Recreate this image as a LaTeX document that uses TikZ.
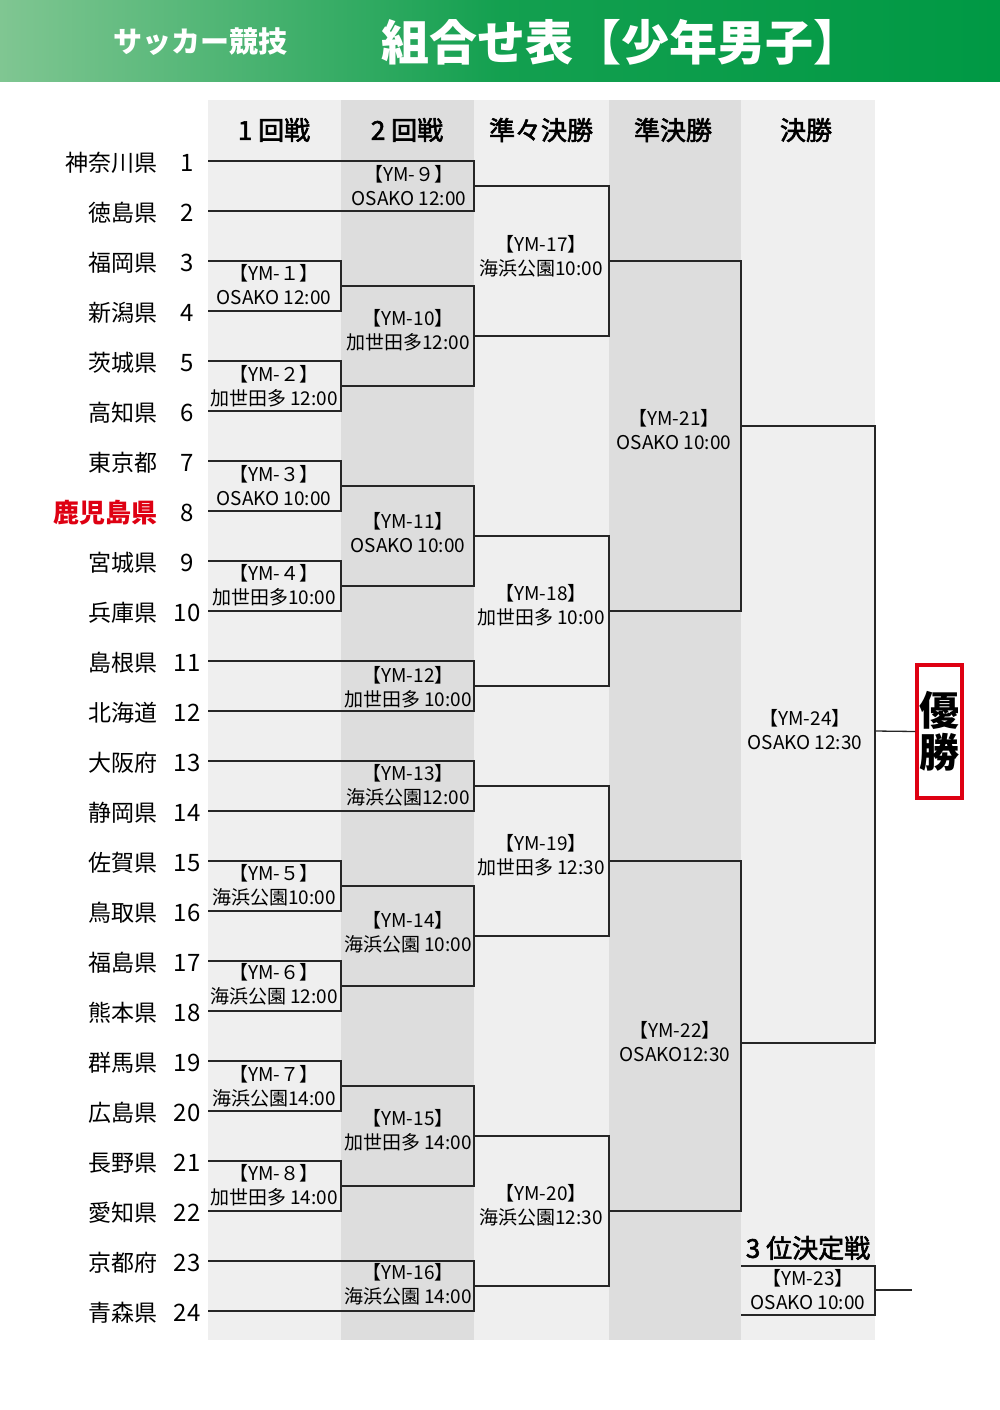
\documentclass[tikz,border=0pt]{standalone}
\usepackage{fontspec}
\setmainfont{Noto Sans CJK JP}
\newfontfamily\medfont{Noto Sans CJK JP}[FakeBold=2.2]

\definecolor{bandgreen}{RGB}{0,153,68}
\definecolor{bandlight}{RGB}{128,198,146}
\definecolor{collight}{RGB}{239,239,239}
\definecolor{coldark}{RGB}{221,221,221}
\definecolor{homered}{RGB}{222,0,18}

\tikzset{
  bracket/.style={line width=1.3pt,draw=black!85},
  match/.style={font=\fontsize{19}{24}\selectfont,align=center,inner sep=0pt},
  team/.style={font=\fontsize{23}{26}\selectfont,anchor=east,inner sep=0pt},
  home/.style={team,font=\fontsize{26}{28}\selectfont\bfseries,text=homered},
  seed/.style={font=\fontsize{24}{26}\selectfont,inner sep=0pt},
  round/.style={font=\fontsize{26}{28}\selectfont\medfont,inner sep=0pt},
  winbox/.style={draw=homered,line width=3.5pt,minimum width=45pt,minimum height=133pt,
    align=center,inner sep=0pt,font=\fontsize{40}{42}\selectfont\bfseries}
}

\begin{document}
\begin{tikzpicture}[x=1pt,y=-1pt]
\useasboundingbox (0,0) rectangle (1000,1410);

% Bandeau
\shade[left color=bandlight,right color=bandgreen,middle color=bandgreen!85!bandlight]
(0,0)
rectangle
(1000,82);

\node[text=white,font=\fontsize{29}{30}\selectfont\bfseries] (sub) at (200,42)
{サッカー競技};

\node[text=white,font=\fontsize{48}{50}\selectfont\bfseries] (title) at (621,42)
{組合せ表【少年男子】};

% Colonnes
\fill[collight] (208,100) rectangle (341,1340);
\fill[coldark] (341,100) rectangle (474,1340);
\fill[collight] (474,100) rectangle (609,1340);
\fill[coldark] (609,100) rectangle (741,1340);
\fill[collight] (741,100) rectangle (875,1340);

\foreach \x/\t [count=\k] in {274/1 回戦,407/2 回戦,541/準々決勝,673/準決勝,806/決勝}
  \node[round] (r\k) at (\x,130) {\t};

% Equipes
\foreach \name/\st [count=\i] in {神奈川県/team,徳島県/team,福岡県/team,新潟県/team,
  茨城県/team,高知県/team,東京都/team,鹿児島県/home,宮城県/team,兵庫県/team,
  島根県/team,北海道/team,大阪府/team,静岡県/team,佐賀県/team,鳥取県/team,
  福島県/team,熊本県/team,群馬県/team,広島県/team,長野県/team,愛知県/team,
  京都府/team,青森県/team}
{
  \coordinate (t\i) at (208,{161+50*(\i-1)});
  \node[\st] (n\i) at (158,{163+50*(\i-1)}) {\name};
  \node[seed] (s\i) at (187,{163+50*(\i-1)}) {\i};
}

% Matchs
\foreach \n/\x/\y in {1/341/286,2/341/386,3/341/486,4/341/586,
  5/341/886,6/341/986,7/341/1086,8/341/1186,
  9/474/186,10/474/336,11/474/536,12/474/686,
  13/474/786,14/474/936,15/474/1136,16/474/1286,
  17/609/261,18/609/611,19/609/861,20/609/1211,
  21/741/426,22/741/1043,24/875/731}
  \coordinate (m\n) at (\x,\y);

\foreach \a/\m/\b in {t1/m9/t2,t3/m1/t4,t5/m2/t6,t7/m3/t8,t9/m4/t10,
  t11/m12/t12,t13/m13/t14,t15/m5/t16,t17/m6/t18,t19/m7/t20,t21/m8/t22,
  t23/m16/t24,m1/m10/m2,m3/m11/m4,m5/m14/m6,m7/m15/m8,
  m9/m17/m10,m11/m18/m12,m13/m19/m14,m15/m20/m16,
  m17/m21/m18,m19/m22/m20,m21/m24/m22}
  \draw[bracket] (\a) -| (\m) |- (\b);

% 3 位決定戦
\node[round] (third) at (808,1248)
{3 位決定戦};

\coordinate (p1) at (741,1266);
\coordinate (p2) at (741,1315);
\coordinate (m23) at (875,1290);
\coordinate (q23) at (912,1290);

\draw[bracket] (p1) -| (m23) |- (p2);
\draw[bracket] (m23) -- (q23);

% Vainqueur
\node[winbox] (win) at (939.5,731.5)
{優\\勝};

\draw[bracket] (m24) -- (win.west);

% Etiquettes
\foreach \n/\k/\x/\y/\t in {1/１/274/285/OSAKO 12:00,2/２/274/386/加世田多 12:00,
  3/３/274/486/OSAKO 10:00,4/４/274/585/加世田多10:00,
  5/５/274/885/海浜公園10:00,6/６/274/984/海浜公園 12:00,
  7/７/274/1086/海浜公園14:00,8/８/274/1185/加世田多 14:00,
  9/９/409/186/OSAKO 12:00,10/10/408/330/加世田多12:00,
  11/11/408/533/OSAKO 10:00,12/12/408/687/加世田多 10:00,
  13/13/408/785/海浜公園12:00,14/14/408/932/海浜公園 10:00,
  15/15/408/1130/加世田多 14:00,16/16/408/1284/海浜公園 14:00,
  17/17/541/256/海浜公園10:00,18/18/541/605/加世田多 10:00,
  19/19/541/855/加世田多 12:30,20/20/541/1205/海浜公園12:30,
  21/21/674/430/OSAKO 10:00,22/22/675/1042/OSAKO12:30,
  23/23/808/1290/OSAKO 10:00,24/24/805/730/OSAKO 12:30}
  \node[match] (ym\n) at (\x,\y) {【YM-\k】\\\t};

\end{tikzpicture}
\end{document}
